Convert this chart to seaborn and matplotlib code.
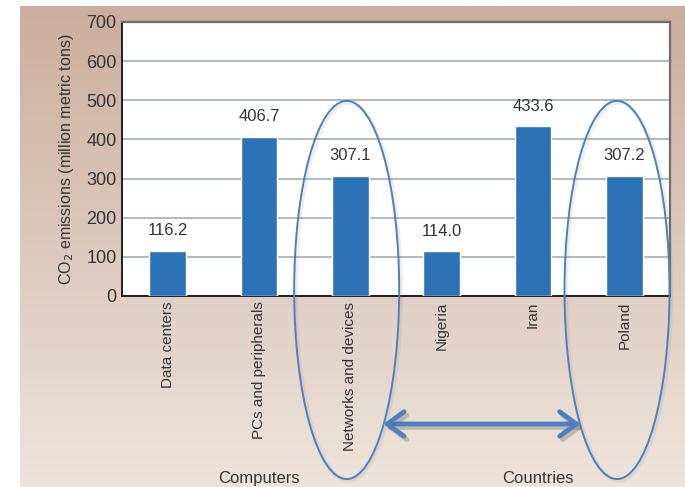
import numpy as np
import pandas as pd
import matplotlib
matplotlib.use("Agg")
import matplotlib.pyplot as plt
import seaborn as sns
from matplotlib.patches import Ellipse, FancyArrowPatch
from matplotlib import transforms
import matplotlib.patheffects as pe

# Data
categories = ["Data centers", "PCs and peripherals", "Networks and devices",
              "Nigeria", "Iran", "Poland"]
emissions = [116.2, 406.7, 307.1, 114.0, 433.6, 307.2]
value_labels = ["116.2", "406.7", "307.1", "114.0", "433.6", "307.2"]
y_ticks = [0, 100, 200, 300, 400, 500, 600, 700]
groups = ["Computers", "Countries"]

sns.set_theme(style="white")
plt.rcParams["font.family"] = ["Liberation Sans Narrow", "Liberation Sans", "DejaVu Sans"]

text_color = "#343434"
bar_color = "#2b73b6"
accent = "#4a80c4"

fig = plt.figure(figsize=(6.85, 4.87), dpi=100)
fig.patch.set_facecolor("white")

# Gradient backdrop panel
bg = fig.add_axes([20 / 685, 0, 665 / 685, 481 / 487], zorder=0)
top = np.array(matplotlib.colors.to_rgb("#cbae9d"))
bot = np.array(matplotlib.colors.to_rgb("#eee4dc"))
t = np.linspace(0, 1, 256)[:, None]
grad = (top[None, :] * (1 - t) + bot[None, :] * t)[:, None, :]
bg.imshow(grad, aspect="auto", extent=[0, 1, 0, 1])
bg.set_axis_off()

ax = fig.add_axes([122 / 685, 1 - 296 / 487, 548 / 685, 274 / 487], zorder=1)
ax.set_facecolor("white")

df = pd.DataFrame({"category": categories, "emissions": emissions})
sns.barplot(data=df, x="category", y="emissions", color=bar_color,
            saturation=1, width=0.4, ax=ax, zorder=3)

ax.set_ylim(0, 700)
ax.set_xlim(-0.5, len(categories) - 0.5)
ax.set_yticks(y_ticks)
ax.yaxis.grid(True, color="#9fb0b8", linewidth=1.2, zorder=0)
ax.set_axisbelow(True)

for i, (v, lab) in enumerate(zip(emissions, value_labels)):
    ax.annotate(lab, (i, v), xytext=(0, 9), textcoords="offset points",
                ha="center", va="bottom", fontsize=12, color=text_color)

ax.tick_params(axis="y", length=0, pad=4, labelsize=13, labelcolor=text_color)
ax.tick_params(axis="x", length=0, pad=4, labelsize=11, labelcolor=text_color)
plt.setp(ax.get_xticklabels(), rotation=90, va="top", ha="center")
ax.set_xlabel("")
ax.set_ylabel("CO$_2$ emissions (million metric tons)", fontsize=11.5,
              color=text_color, labelpad=7)

for side in ["left", "bottom"]:
    ax.spines[side].set_color("#111111")
    ax.spines[side].set_linewidth(1.3)
for side in ["top", "right"]:
    ax.spines[side].set_color("#6d6d6d")
    ax.spines[side].set_linewidth(1.6)

# Group labels below the category names
blend = transforms.blended_transform_factory(ax.transData, ax.transAxes)
ax.text(1.0, -0.665, groups[0], transform=blend, ha="center", va="center",
        fontsize=12, color=text_color)
ax.text(4.05, -0.665, groups[1], transform=blend, ha="center", va="center",
        fontsize=12, color=text_color)

# Ellipses highlighting the compared bars
shadow = [pe.SimpleLineShadow(offset=(1.2, -1.2), shadow_color="#8a7a70", alpha=0.12,
                              linewidth=3),
          pe.Normal()]
for cx in (1.96, 4.92):
    e = Ellipse((cx, 0.022), width=1.15, height=1.38, transform=blend,
                fill=False, edgecolor=accent, linewidth=1.4, clip_on=False,
                zorder=5)
    e.set_path_effects(shadow)
    ax.add_patch(e)

# Double-headed arrow between the two highlighted bars
arrow = FancyArrowPatch((2.33, -0.467), (4.55, -0.467), transform=blend,
                        arrowstyle="<->,head_length=0.55,head_width=0.4",
                        mutation_scale=22, color=accent, linewidth=3.4,
                        clip_on=False, zorder=5,
                        capstyle="round", joinstyle="round")
arrow.set_path_effects([pe.SimpleLineShadow(offset=(2, -2.5), shadow_color="#6b5a50",
                                            alpha=0.3), pe.Normal()])
ax.add_patch(arrow)

fig.savefig("out.png", dpi=100)
